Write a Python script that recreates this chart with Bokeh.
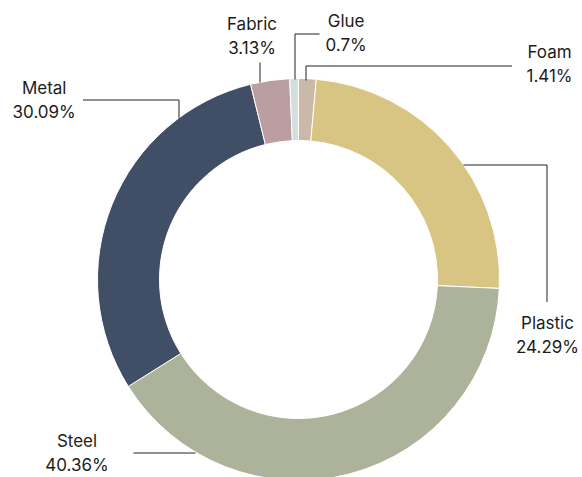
import math
from bokeh.plotting import figure
from bokeh.models import ColumnDataSource, Range1d
from bokeh.core.properties import value
from bokeh.embed import file_html
from bokeh.resources import INLINE

# ---- data ----
categories = ["Foam", "Plastic", "Steel", "Metal", "Fabric", "Glue"]
shares = [1.41, 24.29, 40.36, 30.09, 3.13, 0.7]
colors = ["#cab9a7", "#d9c583", "#adb29a", "#404f66", "#bb9ea1", "#d4dfdb"]

# ---- layout (image pixel coordinates) ----
IMG_W, IMG_H = 582, 477
CX, CY = 298, 279
R_OUT, R_IN = 201, 139
TEXT_DY = -8  # correction for svg baseline placement

def fy(y):
    return IMG_H - y

# label anchor (center x, baseline y of first line) per category
label_pos = {
    "Foam": (549, 59.3),
    "Plastic": (547, 330),
    "Steel": (76.5, 448.3),
    "Metal": (43.7, 95),
    "Fabric": (251.5, 31.7),
    "Glue": (345.6, 28.3),
}
LINE_GAP = 24

# leader polylines per category (image coords)
leaders = {
    "Foam": [(305.5, 80), (305.5, 65.5), (511.5, 65.5)],
    "Plastic": [(463, 164.5), (546.5, 164.5), (546.5, 301.5)],
    "Steel": [(133, 452.5), (195, 452.5)],
    "Metal": [(178.5, 118), (178.5, 99.5), (82.5, 99.5)],
    "Fabric": [(259.5, 62), (259.5, 82)],
    "Glue": [(294.5, 79), (294.5, 33.5), (319, 33.5)],
}

# ---- wedges ----
total = sum(shares)
starts, ends = [], []
cum = 0.0
for v in shares:
    starts.append(math.pi / 2 - 2 * math.pi * cum / total)
    cum += v
    ends.append(math.pi / 2 - 2 * math.pi * cum / total)

wsrc = ColumnDataSource(dict(start=starts, end=ends, color=colors, cat=categories))

p = figure(width=IMG_W, height=IMG_H, output_backend="svg",
           toolbar_location=None, min_border=0,
           x_range=Range1d(0, IMG_W), y_range=Range1d(0, IMG_H))
p.axis.visible = False
p.grid.visible = False
p.outline_line_color = None
p.background_fill_color = "white"
p.border_fill_color = "white"

p.annular_wedge(x=CX, y=fy(CY), inner_radius=R_IN, outer_radius=R_OUT,
                start_angle="start", end_angle="end", direction="clock",
                fill_color="color", line_color="white", line_width=1, source=wsrc)

# leader lines
xs = [[pt[0] for pt in leaders[c]] for c in categories]
ys = [[fy(pt[1]) for pt in leaders[c]] for c in categories]
p.multi_line(xs=xs, ys=ys, line_color="#222222", line_width=1)

# labels
tx, ty, tt = [], [], []
for c, v in zip(categories, shares):
    x, y = label_pos[c]
    tx += [x, x]
    ty += [fy(y + TEXT_DY), fy(y + LINE_GAP + TEXT_DY)]
    tt += [c, f"{v}%"]
tsrc = ColumnDataSource(dict(x=tx, y=ty, text=tt))
p.text(x="x", y="y", text="text", source=tsrc, text_font=value("Inter"),
       text_font_size="17px", text_color="#1c1c1c", text_align="center",
       text_baseline="alphabetic")

open("out.html", "w").write(file_html(p, INLINE))
